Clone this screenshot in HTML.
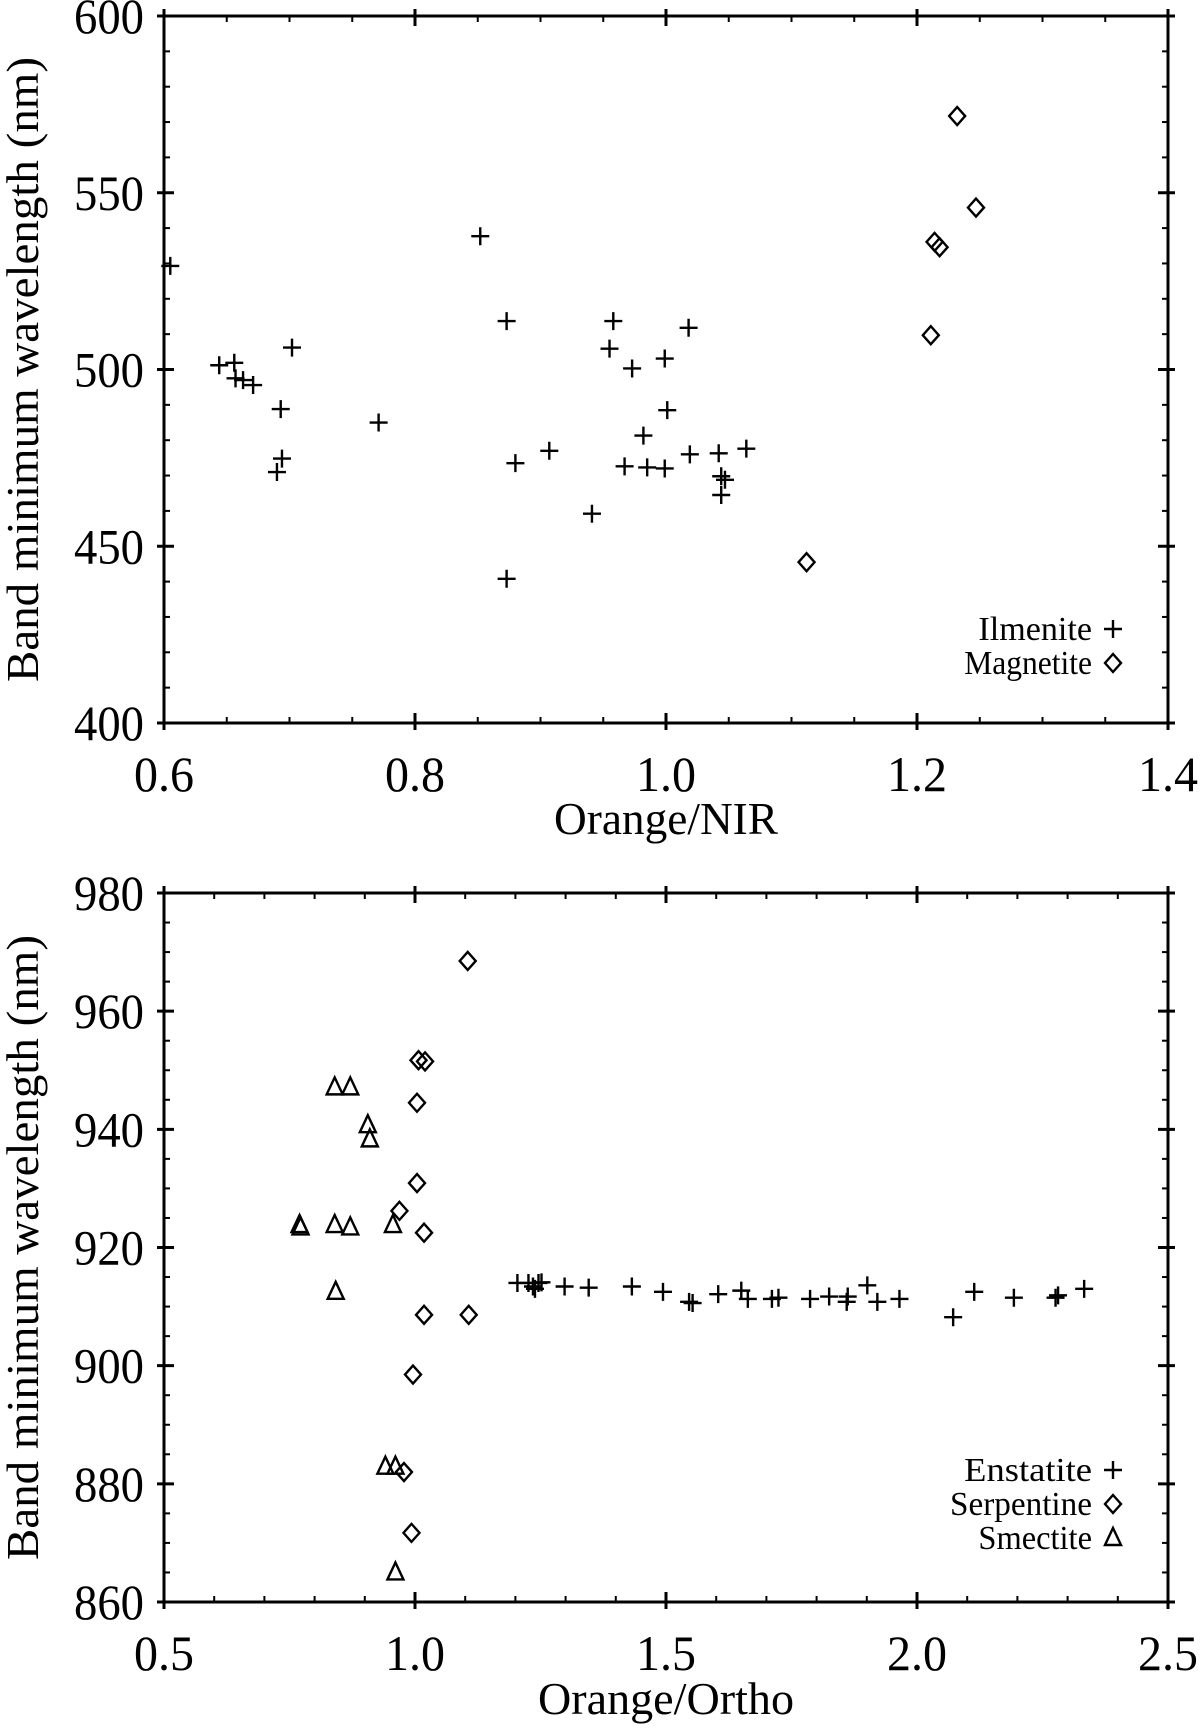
<!DOCTYPE html>
<html><head><meta charset="utf-8"><style>
html,body{margin:0;padding:0;background:#fff;}
svg{display:block;}
text{font-family:"Liberation Serif",serif;fill:#000;}
</style></head><body>
<svg id="fig" width="1200" height="1728" viewBox="0 0 1200 1728" xmlns="http://www.w3.org/2000/svg"></svg>
<script>
// ---- Plot 1 data ----
const ilmX=[0.605,0.644,0.656,0.657,0.663,0.671,0.702,0.693,0.694,0.690,0.771,0.852,0.873,0.880,0.873,0.907,0.941,0.958,0.955,0.973,0.999,1.001,0.982,0.967,0.985,0.999,1.018,1.019,1.042,1.044,1.047,1.044,1.064];
const ilmY=[529.3,501.2,501.9,497.5,497,495.6,506.2,488.8,474.8,471,485,537.7,513.7,473.5,440.8,477,459.2,513.7,505.9,500.3,503.1,488.5,481.3,472.6,472.3,472,511.8,476,476.3,469.8,468.8,464.5,477.6];
const magX=[1.232,1.247,1.214,1.218,1.211,1.112];
const magY=[571.7,545.8,536.1,534.6,509.7,445.5];
const p1XTicks=["0.6","0.8","1.0","1.2","1.4"];
const p1YTicks=["400","450","500","550","600"];
// ---- Plot 2 data ----
const ensX=[1.204,1.226,1.235,1.239,1.246,1.252,1.298,1.346,1.432,1.494,1.546,1.553,1.604,1.650,1.663,1.711,1.724,1.787,1.825,1.862,1.860,1.901,1.921,1.965,2.072,2.114,2.193,2.276,2.281,2.333];
const ensY=[914,914,913.4,913,914,914.1,913.4,913.2,913.4,912.5,910.8,910.6,912.1,912.7,911.3,911.3,911.5,911.3,911.7,911.7,910.8,913.6,910.8,911.3,908.2,912.5,911.5,911.5,911.9,913];
const serX=[1.105,1.007,1.020,1.004,1.004,0.969,1.018,1.018,1.107,0.996,0.978,0.993];
const serY=[968.5,951.7,951.5,944.5,930.9,926.2,922.5,908.6,908.6,898.5,882,871.7];
const smeX=[0.840,0.871,0.906,0.910,0.770,0.772,0.840,0.871,0.956,0.842,0.941,0.961,0.961];
const smeY=[947.1,947.1,940.7,938.3,923.8,923.4,923.8,923.4,923.8,912.5,882.9,882.9,865];
const p2XTicks=["0.5","1.0","1.5","2.0","2.5"];
const p2YTicks=["860","880","900","920","940","960","980"];

const NS="http://www.w3.org/2000/svg";
const svg=document.getElementById('fig');
function mk(tag,attrs,parent){const e=document.createElementNS(NS,tag);for(const k in attrs)e.setAttribute(k,attrs[k]);(parent||svg).appendChild(e);return e;}

function drawPlot(cfg){
  const g=mk('g',{});
  
  
  const {L,R,T,B,xmin,xmax,ymin,ymax}=cfg;
  const sx=v=>L+(v-xmin)/(xmax-xmin)*(R-L);
  const sy=v=>B-(v-ymin)/(ymax-ymin)*(B-T);
  const frame=mk('rect',{x:L,y:T,width:R-L,height:B-T,fill:'none',stroke:'#000','stroke-width':3},g);
  
  
  for(let v=xmin;v<=xmax+1e-9;v+=cfg.xMinor){const x=sx(v);
    mk('line',{x1:x,y1:B,x2:x,y2:B-6,stroke:'#000','stroke-width':2},g);
    mk('line',{x1:x,y1:T,x2:x,y2:T+6,stroke:'#000','stroke-width':2},g);}
  for(let v=ymin;v<=ymax+1e-9;v+=cfg.yMinor){const y=sy(v);
    mk('line',{x1:L,y1:y,x2:L+6,y2:y,stroke:'#000','stroke-width':2},g);
    mk('line',{x1:R,y1:y,x2:R-6,y2:y,stroke:'#000','stroke-width':2},g);}
  cfg.xTicks.forEach(t=>{const x=sx(parseFloat(t));
    mk('line',{x1:x,y1:B+7,x2:x,y2:B-10,stroke:'#000','stroke-width':3},g);
    mk('line',{x1:x,y1:T-7,x2:x,y2:T+10,stroke:'#000','stroke-width':3},g);
    const tx=mk('text',{x:x,y:B+68,'text-anchor':'middle','font-size':50,textLength:60,lengthAdjust:'spacingAndGlyphs'},g);tx.textContent=t;
    
    });
  cfg.yTicks.forEach(t=>{const y=sy(parseFloat(t));
    mk('line',{x1:L-7,y1:y,x2:L+10,y2:y,stroke:'#000','stroke-width':3},g);
    mk('line',{x1:R+7,y1:y,x2:R-10,y2:y,stroke:'#000','stroke-width':3},g);
    const tx=mk('text',{x:L-20,y:y+17,'text-anchor':'end','font-size':50,textLength:70,lengthAdjust:'spacingAndGlyphs'},g);tx.textContent=t;
    
    });
  const xt=mk('text',{x:(L+R)/2,y:cfg.xTitleY,'text-anchor':'middle','font-size':46,textLength:cfg.xTitleW,lengthAdjust:'spacingAndGlyphs'},g);
  xt.textContent=cfg.xTitle;
  
  
  const cy=(T+B)/2;
  const yt=mk('text',{x:0,y:0,'text-anchor':'middle','font-size':46,textLength:625,lengthAdjust:'spacingAndGlyphs',transform:`translate(38,${cy}) rotate(-90)`},g);
  yt.textContent='Band minimum wavelength (nm)';
  
  
  cfg.series.forEach(s=>{
    const sg=mk('g',{},g);
    
    
    s.xs.forEach((xv,i)=>{const p=marker(s.shape,sx(xv),sy(s.ys[i]),sg);
      
      });
  });
  cfg.series.forEach((s,i)=>{
    const ly=cfg.legY+i*34;
    const lt=mk('text',{x:cfg.legX,y:ly+11,'text-anchor':'end','font-size':34,textLength:s.label.length*14.2,lengthAdjust:'spacingAndGlyphs'},g);lt.textContent=s.label;
    
    
    const lm=marker(s.shape,cfg.legX+21,ly,g);
    
    
  });
}
function marker(shape,x,y,parent){
  const st={fill:'none',stroke:'#000','stroke-width':2.4};
  if(shape==='plus') return mk('path',Object.assign({d:`M${x-9},${y}H${x+9}M${x},${y-9}V${y+9}`},st),parent);
  if(shape==='diamond') return mk('path',Object.assign({d:`M${x},${y-9}L${x+8},${y}L${x},${y+9}L${x-8},${y}Z`},st),parent);
  return mk('path',Object.assign({d:`M${x},${y-10}L${x+8},${y+7}L${x-8},${y+7}Z`},st),parent);
}
drawPlot({name:'plot-orange-nir',L:164,R:1168,T:16,B:723,xmin:0.6,xmax:1.4,ymin:400,ymax:600,xMinor:0.05,yMinor:10,
  xTicks:p1XTicks,yTicks:p1YTicks,xTitle:'Orange/NIR',xTitleY:834,xTitleW:224,legX:1092,legY:629,
  series:[{label:'Ilmenite',shape:'plus',xs:ilmX,ys:ilmY},{label:'Magnetite',shape:'diamond',xs:magX,ys:magY}]});
drawPlot({name:'plot-orange-ortho',L:164,R:1168,T:893,B:1602,xmin:0.5,xmax:2.5,ymin:860,ymax:980,xMinor:0.1,yMinor:5,
  xTicks:p2XTicks,yTicks:p2YTicks,xTitle:'Orange/Ortho',xTitleY:1714,xTitleW:256,legX:1092,legY:1470,
  series:[{label:'Enstatite',shape:'plus',xs:ensX,ys:ensY},{label:'Serpentine',shape:'diamond',xs:serX,ys:serY},{label:'Smectite',shape:'tri',xs:smeX,ys:smeY}]});
</script>
</body></html>
